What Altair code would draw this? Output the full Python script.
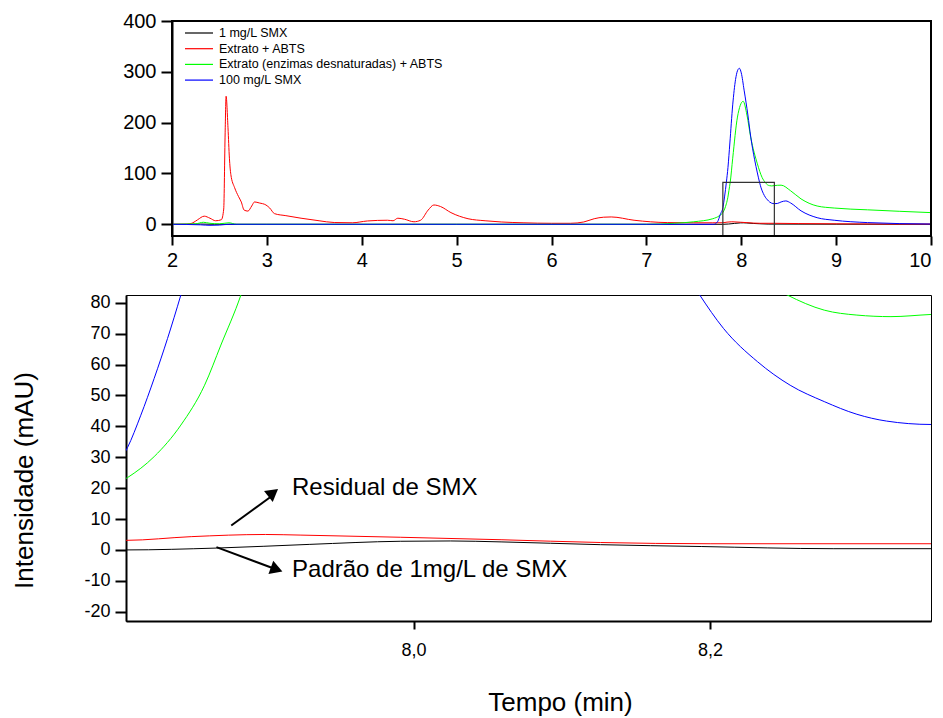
import altair as alt
import pandas as pd

FONT = "Liberation Sans"

SERIES = ["1 mg/L SMX", "Extrato + ABTS",
          "Extrato (enzimas desnaturadas) + ABTS", "100 mg/L SMX"]
COLORS = ["#000000", "#ff0000", "#00ff00", "#0000ff"]

# ---- data (time in min, intensity in mAU) ----
black_t = [2.0, 2.3, 2.45, 3.0, 5.0, 7.0, 7.806, 7.867, 7.93, 7.991, 8.025,
           8.059, 8.126, 8.194, 8.283, 8.349, 9.0, 10.0]
black_v = [0, 0.5, 0, 0, 0, 0, 0, 0.6, 1.8, 2.8, 2.9,
           2.6, 1.7, 1.1, 0.4, 0.4, 0.2, 0]

red_t = [2.0, 2.15, 2.22, 2.27, 2.34, 2.40, 2.46, 2.52, 2.545, 2.56, 2.57,
         2.59, 2.605, 2.62, 2.66, 2.70, 2.73, 2.76, 2.80, 2.84, 2.87, 2.92,
         2.99, 3.03, 3.08, 3.2, 3.36, 3.55, 3.71, 3.9, 4.06, 4.27, 4.33,
         4.38, 4.45, 4.55, 4.62, 4.70, 4.76, 4.83, 4.94, 5.12, 5.3, 5.47,
         5.7, 6.0, 6.2, 6.34, 6.45, 6.55, 6.63, 6.87, 7.22, 7.5, 7.7, 7.806,
         7.85, 7.90, 7.924, 7.991, 8.059, 8.126, 8.2, 8.349, 8.6, 9.0, 9.5,
         10.0]
red_v = [0, 0, 3, 9, 16, 12, 7, 9, 30, 180, 252,
         190, 130, 98, 72, 55, 44, 28, 26, 36, 44, 42,
         38, 32, 21, 17, 12, 7, 3.5, 3, 6.6, 8, 7,
         12, 10, 5, 8, 28, 38, 35, 23, 11, 7, 4.6,
         3, 2, 2, 4.6, 11, 14, 14.5, 8, 3.4, 3, 3, 3.1,
         4.3, 5.0, 4.8, 4.1, 3.3, 2.4, 2.0, 2.0, 1.5, 1.0, 0.5,
         0.5]

green_t = [2.0, 2.25, 2.33, 2.40, 2.5, 2.6, 2.68, 3.0, 5.0, 7.0, 7.3, 7.5,
           7.7, 7.77, 7.807, 7.825, 7.843, 7.859, 7.870, 7.8835, 7.91,
           7.96, 8.02, 8.06, 8.10, 8.17, 8.22, 8.252, 8.277, 8.299, 8.322,
           8.349, 8.42, 8.52, 8.63, 8.80, 8.98, 9.33, 10.0]
green_v = [0, 1, 4, 2, 1, 3, 0, 0, 0, 0, 2, 5,
           11, 17, 23.4, 30.2, 40.4, 53.3, 66.3, 82.5, 130,
           211, 242, 215, 171, 119, 92, 82.5, 77.6, 76.0, 75.5,
           76.2, 77, 66, 50, 36, 32, 28.5, 23]

blue_t = [2.0, 2.3, 2.4, 2.5, 2.6, 3.0, 5.0, 7.0, 7.71, 7.75, 7.78, 7.807,
          7.816, 7.825, 7.834, 7.843, 7.86, 7.88, 7.91, 7.94, 7.96, 7.98,
          8.00, 8.03, 8.07, 8.10, 8.14, 8.17, 8.193, 8.209, 8.232, 8.254,
          8.277, 8.299, 8.319, 8.349, 8.38, 8.42, 8.47, 8.52, 8.63, 8.80,
          8.98, 9.33, 10.0]
blue_v = [0, -1, -2, -1.5, 0, 0, 0, 0, 0, 5, 20, 33.1,
          43.6, 55.5, 68.4, 82.5, 112, 160, 235, 285, 302, 307,
          298, 264, 215, 172, 128, 101, 82.5, 71.7, 60.9, 53.3,
          48.0, 43.9, 41.7, 40.6, 41, 44, 46, 42, 26.5, 13,
          8, 3.4, 0.5]

rows = []
for name, ts, vs in zip(SERIES, [black_t, red_t, green_t, blue_t],
                        [black_v, red_v, green_v, blue_v]):
    for t, v in zip(ts, vs):
        rows.append({"serie": name, "t": t, "v": v})
df = pd.DataFrame(rows)

# ---- axis limits ----
TOP_X = [1.515, 10]          # plot starts at 2; left strip aligns with lower panel
TOP_XFRAME = [2, 10]
TOP_Y = [-23, 400]
TOP_XTICKS = [2, 3, 4, 5, 6, 7, 8, 9, 10]
TOP_YTICKS = [0, 100, 200, 300, 400]
ZOOM_X = [7.806, 8.349]
ZOOM_Y = [-23, 82.5]
ZOOM_XTICKS = [8.0, 8.2]
ZOOM_YTICKS = [-20, -10, 0, 10, 20, 30, 40, 50, 60, 70, 80]

# ---- annotations (data coordinates of the lower panel) ----
ann_text = ["Residual de SMX", "Padrão de 1mg/L de SMX"]
ann_t = [7.918, 7.918]
ann_v = [19.9, -6.4]
arrow_t0 = [7.877, 7.867]
arrow_v0 = [7.9, 0.9]
arrow_t1 = [7.906, 7.908]
arrow_v1 = [18.0, -6.4]
head_t = [7.9053, 7.9076]
head_v = [18.5, -6.3]
head_angle = [52, 110]

W = 805
TOP_H = 215
BOT_H = 326

# ================= top panel =================
xs_top = alt.Scale(domain=TOP_X, nice=False, zero=False)
ys_top = alt.Scale(domain=TOP_Y, nice=False, zero=False)
x_top = alt.X("t:Q", scale=xs_top, axis=alt.Axis(
    values=TOP_XTICKS, tickCount=len(TOP_XTICKS), format="d", title=None,
    domain=False, grid=False, tickSize=9, tickWidth=2, tickColor="black",
    labelFontSize=20, labelPadding=5, labelFont=FONT, labelColor="black",
    labelFlush=True))
y_top = alt.Y("v:Q", scale=ys_top, axis=alt.Axis(
    values=TOP_YTICKS, tickCount=len(TOP_YTICKS), format="d", title=None,
    grid=False, offset=-46, tickSize=11, tickWidth=2, tickColor="black",
    domainWidth=2, domainColor="black", labelFontSize=20, labelPadding=5,
    labelFont=FONT, labelColor="black", labelFlush=False))
color_top = alt.Color("serie:N", scale=alt.Scale(domain=SERIES, range=COLORS),
                      legend=alt.Legend(
                          title=None, orient="none", legendX=65, legendY=4,
                          labelFont=FONT, labelFontSize=12.5, labelColor="black",
                          labelLimit=400, symbolType="M-2,0H2", symbolSize=196,
                          symbolStrokeWidth=1.2, rowPadding=0.7, padding=0,
                          labelOffset=12))

frame_df = pd.DataFrame([{"x": TOP_XFRAME[0], "x2": TOP_XFRAME[1],
                          "y": TOP_Y[0], "y2": TOP_Y[1]}])
zoom_df = pd.DataFrame([{"x": ZOOM_X[0], "x2": ZOOM_X[1],
                         "y": ZOOM_Y[0], "y2": ZOOM_Y[1]}])

top_layers = []
for s in SERIES:
    top_layers.append(
        alt.Chart(df).transform_filter(alt.datum.serie == s)
        .mark_line(strokeWidth=1, interpolate="monotone")
        .encode(x=x_top, y=y_top, color=color_top)
    )
frame = alt.Chart(frame_df).mark_rect(fill=None, stroke="black", strokeWidth=2).encode(
    x=alt.X("x:Q", scale=xs_top), x2="x2:Q", y=alt.Y("y:Q", scale=ys_top), y2="y2:Q")
zoombox = alt.Chart(zoom_df).mark_rect(fill=None, stroke="#333333", strokeWidth=1.2).encode(
    x=alt.X("x:Q", scale=xs_top), x2="x2:Q", y=alt.Y("y:Q", scale=ys_top), y2="y2:Q")

top = alt.layer(*top_layers, zoombox, frame).properties(
    width=W, height=TOP_H, view=alt.ViewBackground(stroke="transparent"))

# ================= bottom panel =================
xs_bot = alt.Scale(domain=ZOOM_X, nice=False, zero=False)
ys_bot = alt.Scale(domain=ZOOM_Y, nice=False, zero=False)
x_bot = alt.X("t:Q", scale=xs_bot, axis=alt.Axis(
    values=ZOOM_XTICKS, tickCount=len(ZOOM_XTICKS), title="Tempo (min)",
    grid=False, tickSize=8, tickWidth=2, tickColor="black", domainWidth=2,
    domainColor="black", labelFontSize=18, labelPadding=12, labelFont=FONT,
    labelColor="black", labelFlush=False,
    labelExpr="replace(format(datum.value, '.1f'), '.', ',')",
    titleFont=FONT, titleFontSize=26, titleFontWeight="normal",
    titleColor="black", titleX=434, titleY=81, titleBaseline="middle"))
y_bot = alt.Y("v:Q", scale=ys_bot, axis=alt.Axis(
    values=ZOOM_YTICKS, tickCount=len(ZOOM_YTICKS), title="Intensidade (mAU)",
    grid=False, tickSize=11, tickWidth=2, tickColor="black", domainWidth=2,
    domainColor="black", labelFontSize=18, labelPadding=5, labelFont=FONT,
    labelColor="black", labelOverlap=False, labelFlush=False,
    labelExpr="'' + datum.value",
    titleFont=FONT, titleFontSize=26, titleFontWeight="normal",
    titleColor="black", titleX=-102, titleY=185, titleBaseline="middle"))
color_bot = alt.Color("serie:N", scale=alt.Scale(domain=SERIES, range=COLORS),
                      legend=None)

bot_layers = []
for s in SERIES:
    bot_layers.append(
        alt.Chart(df).transform_filter(alt.datum.serie == s)
        .mark_line(strokeWidth=1, interpolate="monotone", clip=True)
        .encode(x=x_bot, y=y_bot, color=color_bot)
    )

ann_df = pd.DataFrame({"label": ann_text, "t": ann_t, "v": ann_v})
arrow_df = pd.DataFrame({"t": arrow_t0, "v": arrow_v0, "t2": arrow_t1, "v2": arrow_v1})
head_df = pd.DataFrame({"t": head_t, "v": head_v, "a": head_angle})

texts = alt.Chart(ann_df).mark_text(
    align="left", baseline="middle", font=FONT, fontSize=24, color="black"
).encode(x=alt.X("t:Q", scale=xs_bot), y=alt.Y("v:Q", scale=ys_bot), text="label:N")
arrows = alt.Chart(arrow_df).mark_rule(color="black", strokeWidth=2).encode(
    x=alt.X("t:Q", scale=xs_bot), y=alt.Y("v:Q", scale=ys_bot), x2="t2:Q", y2="v2:Q")
heads = alt.Chart(head_df).mark_point(
    shape="triangle-up", filled=True, size=200, color="black", opacity=1
).encode(x=alt.X("t:Q", scale=xs_bot), y=alt.Y("v:Q", scale=ys_bot),
         angle=alt.Angle("a:Q", scale=None))

bottom = alt.layer(*bot_layers, arrows, heads, texts).properties(
    width=W, height=BOT_H, view=alt.ViewBackground(stroke="black", strokeWidth=1))

chart = alt.vconcat(top, bottom, spacing=22).resolve_scale(
    color="independent"
).properties(
    padding={"left": 2, "top": 2, "right": 0, "bottom": 0}
).configure(font=FONT)

chart.save("out.html", embed_options={"renderer": "svg", "actions": False})
